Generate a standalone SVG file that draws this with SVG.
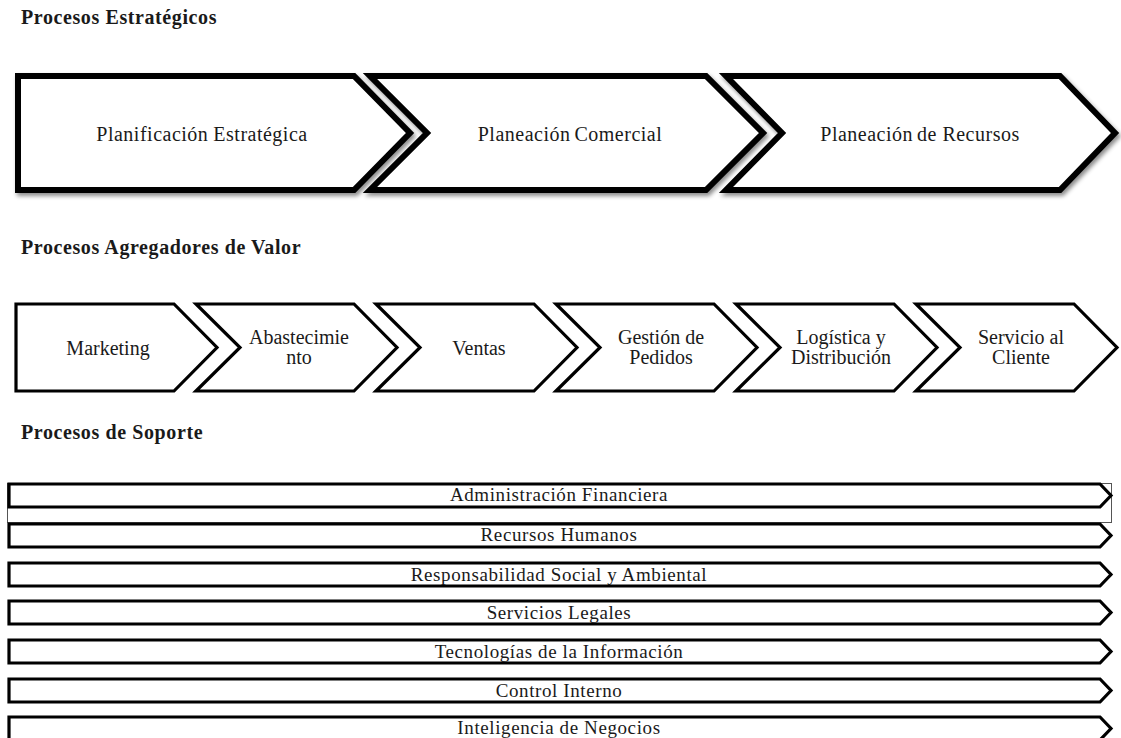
<svg xmlns="http://www.w3.org/2000/svg" width="1121" height="738" viewBox="0 0 1121 738">
<style>
text{font-family:"Liberation Serif","Times New Roman",serif;fill:#1a1a1a}
.h{font-size:20px;font-weight:bold;letter-spacing:0.6px}
.t{font-size:20px;text-anchor:middle;letter-spacing:0.5px}
.m{font-size:20px;text-anchor:middle}
.s{font-size:19px;text-anchor:middle;letter-spacing:0.6px}
.big{fill:#fff;stroke:#000;stroke-width:6;stroke-linejoin:miter;filter:url(#sh)}
.mid{fill:#fff;stroke:#000;stroke-width:3.2;stroke-linejoin:miter}
.bar{fill:#fff;stroke:#000;stroke-width:3.2;stroke-linejoin:miter}
</style>
<defs>
<filter id="sh" x="-5%" y="-10%" width="115%" height="130%">
<feDropShadow dx="2" dy="3" stdDeviation="2" flood-color="#000" flood-opacity="0.45"/>
</filter>
</defs>
<rect width="1121" height="738" fill="#fff"/>

<text class="h" x="21" y="24">Procesos Estratégicos</text>
<text class="h" x="21" y="254">Procesos Agregadores de Valor</text>
<text class="h" x="21" y="439">Procesos de Soporte</text>

<g id="estrategicos">
<g id="n-planificacion">
<path class="big" d="M18,76 H354 L410,133 L354,190 H18 Z"/>
<text class="t" x="202" y="141">Planificación<tspan dx="5">Estratégica</tspan></text>
</g>
<g id="n-comercial">
<path class="big" d="M370,76 H706 L763,133 L706,190 H370 L427,133 Z"/>
<text class="t" x="570" y="141">Planeación<tspan dx="4">Comercial</tspan></text>
</g>
<g id="n-recursos">
<path class="big" d="M726,76 H1060 L1115,133 L1060,190 H726 L782,133 Z"/>
<text class="t" x="920" y="141">Planeación<tspan dx="4">de Recursos</tspan></text>
</g>
</g>

<g id="valor">
<g id="n-marketing">
<path class="mid" d="M16,304 H174 L217,347.5 L174,391 H16 Z"/>
<text class="m" x="108" y="355">Marketing</text>
</g>
<g id="n-abastecimiento">
<path class="mid" d="M196,304 H354 L397,347.5 L354,391 H196 L240,347.5 Z"/>
<text class="m" x="299" y="344">Abastecimie</text>
<text class="m" x="299" y="364">nto</text>
</g>
<g id="n-ventas">
<path class="mid" d="M376,304 H534 L577,347.5 L534,391 H376 L420,347.5 Z"/>
<text class="m" x="479" y="355">Ventas</text>
</g>
<g id="n-pedidos">
<path class="mid" d="M556,304 H714 L757,347.5 L714,391 H556 L600,347.5 Z"/>
<text class="m" x="661" y="344">Gestión de</text>
<text class="m" x="661" y="364">Pedidos</text>
</g>
<g id="n-logistica">
<path class="mid" d="M736,304 H894 L937,347.5 L894,391 H736 L780,347.5 Z"/>
<text class="m" x="841" y="344">Logística y</text>
<text class="m" x="841" y="364">Distribución</text>
</g>
<g id="n-servicio">
<path class="mid" d="M916,304 H1074 L1117,347.5 L1074,391 H916 L960,347.5 Z"/>
<text class="m" x="1021" y="344">Servicio al</text>
<text class="m" x="1021" y="364">Cliente</text>
</g>
</g>

<g id="soporte">
<rect x="7.5" y="483.5" width="1104" height="39" fill="none" stroke="#555" stroke-width="1"/>
<g id="n-financiera">
<path class="bar" d="M9,484 H1100 L1111,495.5 L1100,507 H9 Z"/>
<text class="s" x="559" y="501">Administración Financiera</text>
</g>
<g id="n-rrhh">
<path class="bar" d="M9,524 H1100 L1111,535.5 L1100,547 H9 Z"/>
<text class="s" x="559" y="541">Recursos Humanos</text>
</g>
<g id="n-rsa">
<path class="bar" d="M9,563 H1100 L1111,574.5 L1100,586 H9 Z"/>
<text class="s" x="559" y="581">Responsabilidad Social y Ambiental</text>
</g>
<g id="n-legales">
<path class="bar" d="M9,601 H1100 L1111,612.5 L1100,624 H9 Z"/>
<text class="s" x="559" y="619">Servicios Legales</text>
</g>
<g id="n-ti">
<path class="bar" d="M9,640 H1100 L1111,651.5 L1100,663 H9 Z"/>
<text class="s" x="559" y="658">Tecnologías de la Información</text>
</g>
<g id="n-control">
<path class="bar" d="M9,679 H1100 L1111,690.5 L1100,702 H9 Z"/>
<text class="s" x="559" y="697">Control Interno</text>
</g>
<g id="n-inteligencia">
<path class="bar" d="M9,717 H1100 L1111,728.5 L1100,740 H9 Z"/>
<text class="s" x="559" y="734">Inteligencia de Negocios</text>
</g>
</g>
</svg>
